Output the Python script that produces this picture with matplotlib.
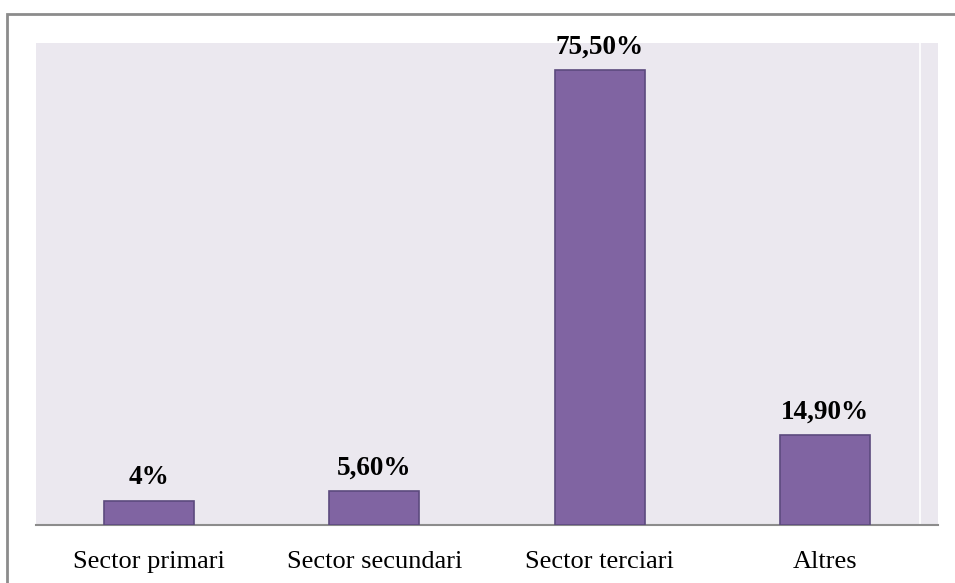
import matplotlib.pyplot as plt
from matplotlib.patches import Rectangle

categories = ["Sector primari", "Sector secundari", "Sector terciari", "Altres"]
values = [4.0, 5.6, 75.5, 14.9]
labels = ["4%", "5,60%", "75,50%", "14,90%"]

plt.rcParams['font.family'] = ['Liberation Serif', 'DejaVu Serif']

fig = plt.figure(figsize=(9.55, 5.83), dpi=100)
ax = fig.add_axes([36 / 955, 58 / 583, 902 / 955, 482 / 583])

# outer chart frame (runs past the right and bottom edges)
fig.add_artist(Rectangle((6.5 / 955, -0.1), 1.2, (583 - 13.5) / 583 + 0.1,
                         transform=fig.transFigure, fill=False,
                         edgecolor='#8c8c8c', linewidth=2))

ax.set_facecolor('#ebe8ef')
x = range(len(categories))
ax.bar(x, values, width=0.4, color='#8064a2', edgecolor='#5c4a7e', linewidth=1.2, zorder=3)

for xi, v, lab in zip(x, values, labels):
    ax.annotate(lab, (xi, v), xytext=(0, 7.5), textcoords='offset points',
                ha='center', va='bottom', fontsize=19.5, fontweight='bold')

ax.axvline(3.42, color='white', linewidth=1.2, zorder=1)

ax.set_xlim(-0.5, 3.5)
ax.set_ylim(0, 80)
ax.set_xticks(list(x))
ax.set_xticklabels(categories, fontsize=19)
ax.tick_params(axis='x', length=0, pad=18.5)
ax.set_yticks([])
for side in ['top', 'right', 'left']:
    ax.spines[side].set_visible(False)
ax.spines['bottom'].set_color('#8c8c8c')
ax.spines['bottom'].set_linewidth(1.5)

fig.savefig('out.png', dpi=100)
